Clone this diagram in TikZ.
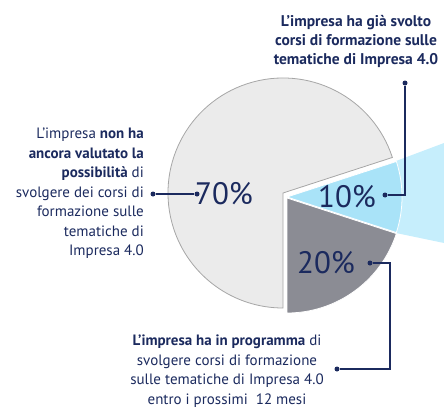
\documentclass[tikz,border=0pt]{standalone}
\usepackage{fontspec}
\setmainfont{PT Sans}
\usepackage{tikz}
\usetikzlibrary{calc}
\definecolor{navy}{HTML}{1B2A5E}
\definecolor{pielight}{HTML}{EBEBEB}
\definecolor{pieblue}{HTML}{A9E3F8}
\definecolor{beamblue}{HTML}{C6EEFC}
\definecolor{piegray}{HTML}{8B8C94}

\begin{document}
\begin{tikzpicture}[x=1pt,y=1pt,
  dot/.style={circle,fill=navy,inner sep=0pt,minimum size=5pt},
  lab/.style={text=navy,font=\fontsize{15}{19.5}\selectfont,inner sep=0pt},
  pct/.style={text=navy,font=\fontsize{31}{31}\selectfont,inner sep=0pt},
  lead/.style={navy,line width=1.3pt}]
\useasboundingbox (0,0) rectangle (444,408);
\fill[beamblue] (396,247) -- (444,265) -- (444,165) -- (396,175) -- cycle;
\filldraw[pielight,draw=gray!70,line width=0.8pt] (283,215) -- ++(18:115) arc[start angle=18,end angle=270,radius=115] -- cycle;
\filldraw[pieblue,draw=white,line width=0.8pt] (287,211) -- ++(-18:115) arc[start angle=-18,end angle=18,radius=115] -- cycle;
\filldraw[piegray,draw=white,line width=0.8pt] (287,210) -- ++(-90:115) arc[start angle=-90,end angle=-18,radius=115] -- cycle;
\node[pct] (p70) at (224,214) {70\%};
\node[pct] (p10) at (347,211) {10\%};
\node[pct] (p20) at (326,145) {20\%};
\node[lab,anchor=east,align=right] (l70) at (144,214.5) {L'impresa \textbf{non ha}\\ \textbf{ancora valutato la}\\ \textbf{possibilità} di\\ svolgere dei corsi di\\ formazione sulle\\ tematiche di\\ Impresa 4.0};
\node[lab,align=center,font=\fontsize{15.5}{19}\selectfont\bfseries] (l10) at (356,367) {L'impresa ha già svolto\\ corsi di formazione sulle\\ tematiche di Impresa 4.0};
\node[lab,align=center] (l20) at (227,37) {\textbf{L'impresa ha in programma} di\\ svolgere corsi di formazione\\ sulle tematiche di Impresa 4.0\\ entro i prossimi\ \ 12 mesi};
\node[dot] (d1) at (153,214) {};
\node[dot] (d2) at (197,214) {};
\node[dot] (d3) at (405,325) {};
\node[dot] (d4) at (385,213) {};
\node[dot] (d5) at (370,145) {};
\node[dot] (d6) at (337,39) {};
\draw[lead] (d1) -- (d2);
\draw[lead] (d3) |- (d4);
\draw[lead] (d5) -- ++(20,0) |- (d6);
\end{tikzpicture}
\end{document}
